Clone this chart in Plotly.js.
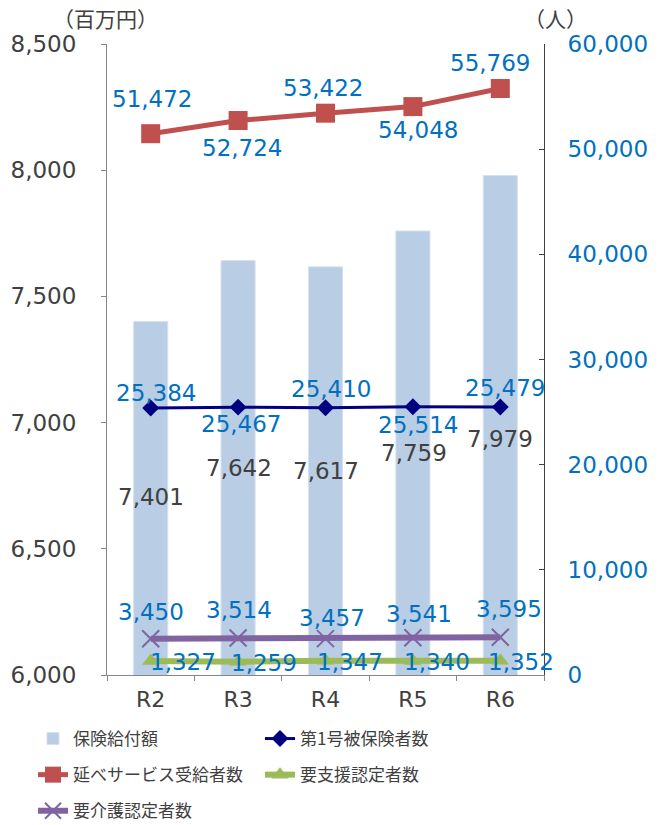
<!DOCTYPE html>
<html><head><meta charset="utf-8">
<script src="https://cdn.plot.ly/plotly-3.0.1.min.js"></script>
<style>html,body{margin:0;padding:0;background:#fff;}</style>
</head><body><div id="chart" style="width:661px;height:825px;"></div>
<script>
// ---- data ----
const categories = ['R2', 'R3', 'R4', 'R5', 'R6'];
const benefitAmount = [7401, 7642, 7617, 7759, 7979];          // 保険給付額 (百万円)
const firstInsured = [25384, 25467, 25410, 25514, 25479];      // 第1号被保険者数
const serviceRecipients = [51472, 52724, 53422, 54048, 55769]; // 延べサービス受給者数
const supportCertified = [1327, 1259, 1347, 1340, 1352];       // 要支援認定者数
const careCertified = [3450, 3514, 3457, 3541, 3595];          // 要介護認定者数
const seriesNames = ['保険給付額', '第1号被保険者数', '延べサービス受給者数', '要支援認定者数', '要介護認定者数'];

// ---- style ----
const NUMF = 'DejaVu Sans, Noto Sans CJK JP, sans-serif';
const JPF = 'Noto Sans CJK JP, sans-serif';
const BLUE = '#0070C0', DARK = '#404040';
const L = 107, R = 544, T = 44, B = 675;
const py = p => (B - p) / (B - T);
const px = p => (p - L) / (R - L);
const fmt = v => v.toLocaleString('en-US');
const NUMSIZE = 23;

const traces = [
  {type: 'bar', name: seriesNames[0], x: categories, y: benefitAmount, yaxis: 'y', legend: 'legend', legendgroup: 'a',
   width: 0.39, marker: {color: '#B9CDE5', line: {color: '#D6E1EF', width: 1}}},
  {type: 'scatter', mode: 'lines+markers', name: seriesNames[1], x: categories, y: firstInsured, yaxis: 'y2', legend: 'legend2', legendgroup: 'b',
   line: {color: '#000080', width: 3}, marker: {symbol: 'diamond', size: 13, color: '#000080'}},
  {type: 'scatter', mode: 'lines+markers', name: seriesNames[2], x: categories, y: serviceRecipients, yaxis: 'y2', legend: 'legend', legendgroup: 'c',
   line: {color: '#C0504D', width: 5}, marker: {symbol: 'square', size: 19, color: '#C0504D'}},
  {type: 'scatter', mode: 'lines+markers', name: seriesNames[3], x: categories, y: supportCertified, yaxis: 'y2', legend: 'legend2', legendgroup: 'd',
   line: {color: '#9BBB59', width: 6}, marker: {symbol: 'triangle-up', size: 15, color: '#9BBB59'}},
  {type: 'scatter', mode: 'lines+markers', name: seriesNames[4], x: categories, y: careCertified, yaxis: 'y2', legend: 'legend', legendgroup: 'e',
   line: {color: '#8064A2', width: 6}, marker: {symbol: 'x-thin-open', size: 17, color: '#8064A2', line: {width: 2, color: '#8064A2'}}}
];

const annotations = [];
// bar value labels (pixel positions)
const barLabelPy = [497, 468, 471, 453, 439];
const barLabelDx = [0, 1, 0, 1, 0];
benefitAmount.forEach((v, i) => annotations.push({
  x: categories[i], y: py(barLabelPy[i]), xref: 'x', yref: 'paper', text: fmt(v), showarrow: false,
  xshift: barLabelDx[i], font: {family: NUMF, size: NUMSIZE, color: DARK}, yanchor: 'middle'}));

function lineLabels(vals, dx, dy) {
  vals.forEach((v, i) => annotations.push({
    x: categories[i], y: v, xref: 'x', yref: 'y2', text: fmt(v), showarrow: false,
    xshift: dx[i], yshift: dy[i], yanchor: 'middle',
    font: {family: NUMF, size: NUMSIZE, color: BLUE}}));
}
lineLabels(serviceRecipients, [1, 4, -3, 5, -10], [35, -27, 25, -23, 26]);
lineLabels(firstInsured, [5, 3, 5, 5, 5], [15, -17, 19, -18, 19]);
lineLabels(careCertified, [0, 1, 6, 6, 9], [27, 28, 21, 24, 28]);
lineLabels(supportCertified, [32, 26, 24, 24, 21], [-1, -1, -1, -1, -1]);

annotations.push({x: px(105), y: py(18), xref: 'paper', yref: 'paper', xanchor: 'center',
  text: '（百万円）', showarrow: false, font: {family: JPF, size: 21, color: DARK}, yanchor: 'middle'});
annotations.push({x: px(555), y: py(18), xref: 'paper', yref: 'paper', xanchor: 'center',
  text: '（人）', showarrow: false, font: {family: JPF, size: 21, color: DARK}, yanchor: 'middle'});

const legendStyle = {orientation: 'v', xanchor: 'left', yanchor: 'top', traceorder: 'grouped',
  tracegroupgap: 11, font: {family: JPF, size: 17, color: DARK}, bgcolor: 'rgba(0,0,0,0)'};

const layout = {
  width: 661, height: 825,
  margin: {l: L, r: 661 - R, t: T, b: 825 - B, pad: 0, autoexpand: false},
  paper_bgcolor: '#fff', plot_bgcolor: '#fff',
  showlegend: true, bargap: 0.6,
  xaxis: {type: 'category', range: [-0.5, 4.5], showgrid: false, zeroline: false,
    showline: true, linecolor: '#868686', linewidth: 1,
    ticks: 'outside', tickson: 'boundaries', ticklen: 5, tickcolor: '#868686', ticklabelstandoff: 5,
    tickfont: {family: NUMF, size: 22, color: DARK}, fixedrange: true},
  yaxis: {range: [6000, 8500], dtick: 500, tickformat: ',d', showgrid: false, zeroline: false,
    showline: true, linecolor: '#868686', linewidth: 1, ticks: 'outside', ticklen: 5, tickcolor: '#868686',
    ticklabelstandoff: 20,
    tickfont: {family: NUMF, size: NUMSIZE, color: DARK}},
  yaxis2: {overlaying: 'y', side: 'right', range: [0, 60000], dtick: 10000, tickformat: ',d',
    showgrid: false, zeroline: false, showline: true, linecolor: '#404040', linewidth: 1,
    ticks: 'inside', ticklen: 5, tickcolor: '#404040', ticklabelstandoff: 18,
    tickfont: {family: NUMF, size: NUMSIZE, color: BLUE}},
  legend: Object.assign({}, legendStyle, {x: px(33), y: py(721)}),
  legend2: Object.assign({}, legendStyle, {x: px(260), y: py(721)}),
  annotations: annotations
};

Plotly.newPlot('chart', traces, layout, {displayModeBar: false, staticPlot: true});
</script></body></html>
